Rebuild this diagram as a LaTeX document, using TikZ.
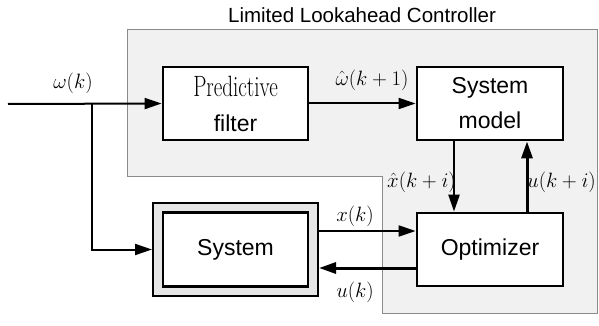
\documentclass[tikz,border=0pt]{standalone}
\usepackage{graphicx}
\usepackage{fontspec}
\setsansfont{Liberation Sans}
\usetikzlibrary{arrows.meta,calc}
\definecolor{regionfill}{HTML}{F1F1F1}
\definecolor{regionedge}{HTML}{8A8A8A}
\definecolor{sysring}{HTML}{E6E6E6}
\tikzset{
  blk/.style={draw=black,line width=2.8pt,fill=white,minimum width=#1,minimum height=73pt,
    align=center,inner sep=0pt,font=\fontsize{23}{35}\selectfont\sffamily},
  blk/.default=146pt,
  wire/.style={line width=2.4pt},
  flow/.style={wire,-{Triangle[length=17pt,width=11pt]}},
  sig/.style={font=\fontsize{20}{24}\selectfont,inner sep=0pt},
}
\begin{document}
\begin{tikzpicture}[x=1pt,y=-1pt]
\useasboundingbox (0,0) rectangle (599,326);
% controller region
\draw[fill=regionfill,draw=regionedge,line width=1pt]
  (127,30) -- (597,30) -- (597,313) -- (382,313) -- (382,176) -- (127,176) -- cycle;
\node[font=\fontsize{20.5}{24}\selectfont\sffamily] (title) at (362,15) {Limited Lookahead Controller};
% blocks
\node[blk=145pt] (filter) at (235.5,103.5)
  {\scalebox{1}[1.4]{\rmfamily\fontsize{21}{35}\selectfont Predictive}\\filter};
\node[blk] (model) at (490,103.5) {System\\model};
\node[blk] (opt) at (490,249.5) {Optimizer};
\node[draw=black,line width=2pt,fill=sysring,minimum width=165pt,minimum height=93pt,inner sep=0pt]
  (sysout) at (235.5,249.5) {};
\node[blk=145pt,minimum height=74pt] (sys) at (235.5,249.5) {System};
% input signal
\coordinate (in) at (8,104);
\coordinate (split) at (92,104);
\draw[flow,line width=2pt] (in) -- (filter.west);
\draw[flow,line width=2pt] (split) |- (sysout.west);
\node[sig] (lw) at (73,83) {$\omega(k)$};
% filter to model
\draw[flow,line width=2pt] (filter.east) -- (model.west);
\node[sig] (lwh) at (372,80) {$\hat\omega(k+1)$};
% model <-> optimizer
\draw[flow] ($(model.south)+(-36,0)$) -- ($(opt.north)+(-36,0)$);
\draw[flow,line width=3pt] ($(opt.north)+(37,0)$) -- ($(model.south)+(37,0)$);
\node[sig,anchor=east] (lxh) at (456,182) {$\hat x(k+i)$};
\node[sig,anchor=west] (lu2) at (527,182) {$u(k+i)$};
% system <-> optimizer
\draw[flow,line width=2pt] ($(sysout.east)+(0,-18.5)$) -- ($(opt.west)+(0,-18.5)$);
\draw[flow,line width=3pt] ($(opt.west)+(0,18.5)$) -- ($(sysout.east)+(0,18.5)$);
\node[sig] (lx) at (355,216) {$x(k)$};
\node[sig] (lu) at (355,292) {$u(k)$};
\end{tikzpicture}
\end{document}
